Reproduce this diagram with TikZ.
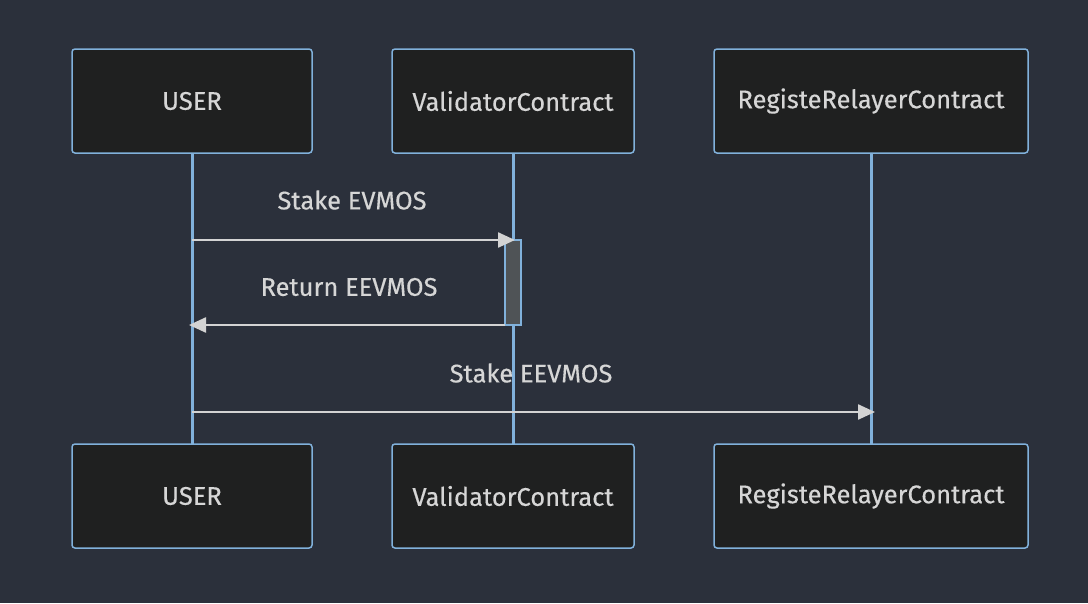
\documentclass[tikz,border=0pt]{standalone}
\usepackage{fontspec}
\setmainfont{Fira Sans}[FakeBold=0.35]
\usetikzlibrary{arrows.meta}
\definecolor{bg}{HTML}{2B303B}
\definecolor{boxfill}{HTML}{1F2020}
\definecolor{boxline}{HTML}{81B1DB}
\definecolor{txt}{HTML}{D6D6D6}
\definecolor{msg}{HTML}{D3D3D3}
\definecolor{act}{HTML}{4F5356}
\tikzset{
  actor/.style={draw=boxline, fill=boxfill, line width=1.5pt, rounded corners=3pt, minimum height=104pt, text=txt, font=\fontsize{25.5}{30}\selectfont, inner sep=0pt},
  life/.style={draw=boxline, line width=3pt},
  message/.style={draw=msg, line width=2.4pt, -{Triangle[length=17pt,width=15pt]}},
  mlabel/.style={text=txt, font=\fontsize{25.5}{30}\selectfont, inner sep=0pt},
  actbox/.style={draw=boxline, fill=act, line width=1.2pt, minimum width=16pt, inner sep=0pt}
}
\begin{document}
\begin{tikzpicture}[x=1pt,y=-1pt]
\fill[bg] (0,0) rectangle (1088,603);
\useasboundingbox (0,0) rectangle (1088,603);
% lifelines (behind boxes)
\coordinate (l1t) at (192,153); \coordinate (l1b) at (192,444);
\coordinate (l2t) at (513,153); \coordinate (l2b) at (513,444);
\coordinate (l3t) at (871,153); \coordinate (l3b) at (871,444);
\draw[life] (l1t) -- (l1b);
\draw[life] (l2t) -- (l2b);
\draw[life] (l3t) -- (l3b);
% actors
\node[actor, minimum width=240pt] (u1) at (192,101) {USER};
\node[actor, minimum width=242pt] (v1) at (513,101) {ValidatorContract};
\node[actor, minimum width=314pt] (r1) at (871,101) {RegisteRelayerContract};
\node[actor, minimum width=240pt] (u2) at (192,496) {USER};
\node[actor, minimum width=242pt] (v2) at (513,496) {ValidatorContract};
\node[actor, minimum width=314pt] (r2) at (871,496) {RegisteRelayerContract};
% activation
\node[actbox, minimum height=85pt] (a1) at (513,282.5) {};
% messages
\coordinate (m1s) at (192,240); \coordinate (m1e) at (515,240);
\draw[message] (m1s) -- (m1e);
\node[mlabel] (t1) at (352,200) {Stake EVMOS};
\coordinate (m2s) at (505,325); \coordinate (m2e) at (189,325);
\draw[message] (m2s) -- (m2e);
\node[mlabel] (t2) at (349,287) {Return EEVMOS};
\coordinate (m3s) at (192,412); \coordinate (m3e) at (875,412);
\draw[message] (m3s) -- (m3e);
\node[mlabel] (t3) at (531,373) {Stake EEVMOS};
\end{tikzpicture}
\end{document}
